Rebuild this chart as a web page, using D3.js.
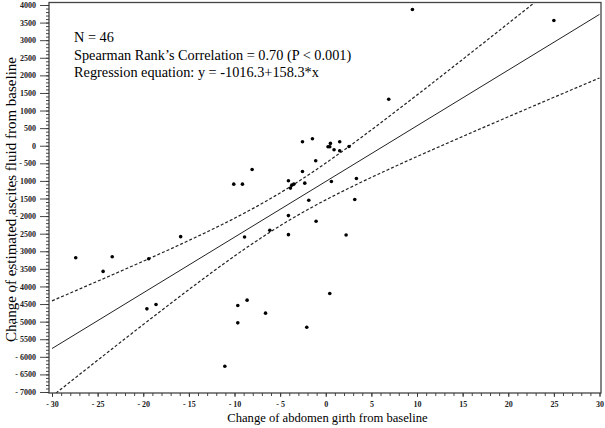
<!DOCTYPE html>
<html>
<head>
<meta charset="utf-8">
<script src="https://cdn.jsdelivr.net/npm/d3@7"></script>
<style>
  html, body { margin: 0; padding: 0; background: #fff; }
  svg { display: block; }
</style>
</head>
<body>
<svg id="chart" width="605" height="428"></svg>
<script>
// ---- data ----
const girthChange = [9.5, 25, 6.9, -2.55, -1.46, 0.25, 0.44, 0.51, 1.53, 0.91, 1.53, 2.55,
  -1.1, -2.55, -2.3, 0.62, 3.36, 3.18, -1.86, -8.07, -10.08, -9.13, -4.09, -3.5, -3.72,
  -3.87, -4.09, -1.06, -6.13, -4.09, -8.9, 2.23, 0.44, -2.08, -27.4, -24.4, -23.4, -19.4,
  -15.9, -19.6, -18.6, -11.06, -9.64, -8.62, -9.64, -6.6];
const ascitesChange = [3870, 3560, 1320, 114, 199, -28, -28, 66, 114, -114, -142, -20,
  -427, -732, -1063, -1017, -932, -1530, -1548, -675, -1092, -1092, -997, -1092, -1120,
  -1205, -1986, -2146, -2403, -2527, -2593, -2536, -4199, -5158, -3182, -3572, -3154, -3211,
  -2584, -4636, -4512, -6270, -4541, -4389, -5035, -4759];
const regIntercept = -1016.3;
const regSlope = 158.3;
const tCrit = 2.015; // t(0.975, df = 44)
const xTicks = [-30, -25, -20, -15, -10, -5, 0, 5, 10, 15, 20, 25, 30];
const yTicks = [4000, 3500, 3000, 2500, 2000, 1500, 1000, 500, 0, -500, -1000, -1500, -2000,
  -2500, -3000, -3500, -4000, -4500, -5000, -5500, -6000, -6500, -7000];
const annotations = ["N = 46", "Spearman Rank\u2019s Correlation = 0.70 (P < 0.001)",
  "Regression equation: y = -1016.3+158.3*x"];
const xTitle = "Change of abdomen girth from baseline";
const yTitle = "Change of estimated ascites fluid from baseline";

// ---- layout ----
const svg = d3.select("#chart");
const frame = { left: 49, right: 601, top: 2.5, bottom: 393 };
const x = d3.scaleLinear().domain([-30, 30]).range([52, 599.5]);
const y = d3.scaleLinear().domain([-7000, 4000]).range([392, 5]);
const fmt = v => v < 0 ? "- " + Math.abs(v) : String(v);
const serif = "'Liberation Serif', 'Times New Roman', serif";

svg.append("rect").attr("width", 605).attr("height", 428).attr("fill", "#fff");

svg.append("defs").append("clipPath").attr("id", "clip")
  .append("rect")
  .attr("x", frame.left).attr("y", frame.top)
  .attr("width", frame.right - frame.left).attr("height", frame.bottom - frame.top);

// ---- regression + confidence band computed from the data ----
const pts = girthChange.map((g, i) => [g, ascitesChange[i]]);
const n = pts.length;
const xbar = d3.mean(girthChange);
const sxx = d3.sum(girthChange, g => (g - xbar) * (g - xbar));
const sse = d3.sum(pts, p => Math.pow(p[1] - (regIntercept + regSlope * p[0]), 2));
const s = Math.sqrt(sse / (n - 2));
const fit = g => regIntercept + regSlope * g;
const hw = g => tCrit * s * Math.sqrt(1 / n + (g - xbar) * (g - xbar) / sxx);
const grid = d3.range(-30, 30.001, 0.25);

const plot = svg.append("g").attr("clip-path", "url(#clip)");
const line = d3.line().x(d => x(d[0])).y(d => y(d[1]));

plot.append("path")
  .attr("d", line([[-30, fit(-30)], [30, fit(30)]]))
  .attr("fill", "none").attr("stroke", "#222").attr("stroke-width", 1);

[1, -1].forEach(sign => {
  plot.append("path")
    .attr("d", line(grid.map(g => [g, fit(g) + sign * hw(g)])))
    .attr("fill", "none").attr("stroke", "#222").attr("stroke-width", 1.2)
    .attr("stroke-dasharray", "3,2");
});

plot.selectAll("circle.pt").data(pts).join("circle")
  .attr("class", "pt")
  .attr("cx", d => x(d[0])).attr("cy", d => y(d[1]))
  .attr("r", 1.8).attr("fill", "#000");

// ---- frame ----
svg.append("rect")
  .attr("x", frame.left).attr("y", frame.top)
  .attr("width", frame.right - frame.left).attr("height", frame.bottom - frame.top)
  .attr("fill", "none").attr("stroke", "#444").attr("stroke-width", 1.3);

// ---- axes ----
const yMinor = svg.append("g").attr("transform", `translate(${frame.left},0)`)
  .call(d3.axisLeft(y).tickValues(d3.range(-7000, 4001, 100)).tickSize(3).tickFormat(""));
const yMajor = svg.append("g").attr("transform", `translate(${frame.left},0)`)
  .call(d3.axisLeft(y).tickValues(yTicks).tickSize(9).tickPadding(4).tickFormat(fmt));
const xMinor = svg.append("g").attr("transform", `translate(0,${frame.bottom})`)
  .call(d3.axisBottom(x).tickValues(d3.range(-30, 30.001, 1)).tickSize(3).tickFormat(""));
const xMajor = svg.append("g").attr("transform", `translate(0,${frame.bottom})`)
  .call(d3.axisBottom(x).tickValues(xTicks).tickSize(4).tickPadding(4).tickFormat(fmt));

[yMinor, yMajor, xMinor, xMajor].forEach(g => {
  g.select(".domain").remove();
  g.selectAll("line").attr("stroke", "#333").attr("stroke-width", 0.9);
  g.selectAll("text").attr("font-family", serif).attr("font-size", 8)
    .attr("font-weight", "bold").attr("fill", "#222");
});

// ---- annotations ----
annotations.forEach((t, i) => {
  svg.append("text").attr("x", 74).attr("y", 42 + i * 17.5)
    .attr("font-family", serif).attr("font-size", 14.3).attr("fill", "#000").text(t);
});

svg.append("text")
  .attr("x", 327.5).attr("y", 422).attr("text-anchor", "middle")
  .attr("font-family", serif).attr("font-size", 12.6).attr("fill", "#000").text(xTitle);

svg.append("text")
  .attr("transform", "translate(15.5,199.5) rotate(-90)").attr("text-anchor", "middle")
  .attr("font-family", serif).attr("font-size", 15).attr("fill", "#000").text(yTitle);
</script>
</body>
</html>
